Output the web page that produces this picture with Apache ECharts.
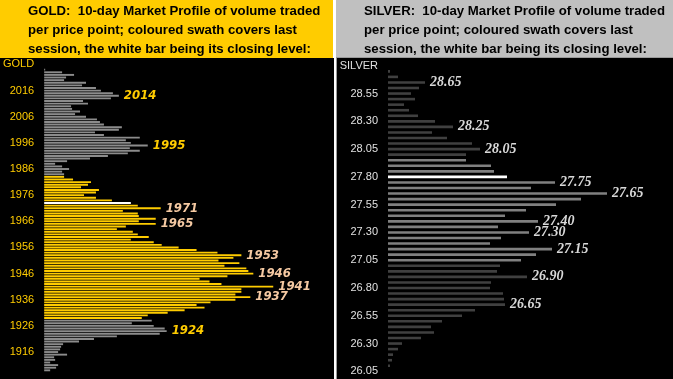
<!DOCTYPE html>
<html><head><meta charset="utf-8">
<script src="https://cdn.jsdelivr.net/npm/echarts@6/dist/echarts.min.js"></script>
<style>html,body{margin:0;padding:0;background:#fff;}#c{width:673px;height:379px;}</style>
</head><body><div id="c"></div>
<script>
// ---------- GOLD ----------
const GOLD_TOP_PRICE = 2024;            // highest price row with a bar (step 1)
const GOLD_AXIS_TOP = 2026;             // row used for the "GOLD" caption
const GOLD_VOLUMES = [ // 2024 down to 1909
  1,18,30,22,20,42,38,52,57,69,
  75,67,39,44,27,28,36,31,42,53,
  56,60,78,75,51,60,96,82,87,104,
  86,96,84,64,46,23,11,18,25,18,
  20,
  20,29,47,44,37,55,52,40,52,68,
  87,94,117,79,94,95,112,95,112,82,
  73,89,94,105,87,110,118,135,153,174,
  198,190,175,196,181,203,205,210,184,156,
  166,178,230,198,198,192,207,192,167,153,
  161,141,124,104,98,
  108,88,110,121,123,116,73,50,35,19,
  17,16,14,23,10,11,6,14,12,6
];
const GOLD_TICKS = ['2026','2016','2006','1996','1986','1976','1966','1956','1946','1936','1926','1916'];
const GOLD_SWATH = [1929, 1983];
const GOLD_CLOSE = 1973;
const GOLD_LABELS = ['2014','1995','1971','1965','1953','1946','1941','1937','1924'];

// ---------- SILVER ----------
const SILVER_TOP_CENTS = 2875;          // 28.75, step 0.05
const SILVER_AXIS_TOP_CENTS = 2880;     // row used for the "SILVER" caption
const SILVER_AXIS_BOTTOM_CENTS = 2605;
const SILVER_VOLUMES = [ // 28.75 down to 26.10
  2,10,37,31,23,27,16,21,30,47,
  65,44,59,84,92,78,78,103,106,119,
  167,143,219,193,168,138,117,150,110,141,
  113,102,164,148,133,112,109,139,103,102,
  115,116,117,87,74,54,43,46,33,14,
  10,5,4,2
];
const SILVER_TICKS = ['28.80','28.55','28.30','28.05','27.80','27.55','27.30','27.05','26.80','26.55','26.30','26.05'];
const SILVER_SWATH = [27.05, 27.95];
const SILVER_CLOSE = '27.80';
const SILVER_LABELS = ['28.65','28.25','28.05','27.75','27.65','27.40','27.30','27.15','26.90','26.65'];

// build category ladders
const goldCats = [];
for (let p = GOLD_AXIS_TOP; p >= GOLD_TOP_PRICE - GOLD_VOLUMES.length + 1; p--) goldCats.push(String(p));
const goldData = goldCats.map(c => {
  const idx = GOLD_TOP_PRICE - Number(c);
  if (idx < 0) return null;
  const v = GOLD_VOLUMES[idx];
  const p = Number(c);
  const inSwath = p >= GOLD_SWATH[0] && p <= GOLD_SWATH[1];
  const col = p === GOLD_CLOSE ? '#FFFFFF' : (inSwath ? '#FFCC00' : '#8C8C8C');
  return { value: v, itemStyle: { color: col },
           label: { color: inSwath ? '#F5C9A2' : '#FFCC00' } };
});

const silverCats = [];
for (let c = SILVER_AXIS_TOP_CENTS; c >= SILVER_AXIS_BOTTOM_CENTS; c -= 5) silverCats.push((c / 100).toFixed(2));
const silverData = silverCats.map(c => {
  const idx = Math.round((SILVER_TOP_CENTS - Math.round(Number(c) * 100)) / 5);
  if (idx < 0 || idx >= SILVER_VOLUMES.length) return null;
  const p = Number(c);
  const inSwath = p >= SILVER_SWATH[0] - 1e-6 && p <= SILVER_SWATH[1] + 1e-6;
  const col = c === SILVER_CLOSE ? '#FFFFFF' : (inSwath ? '#808080' : '#404040');
  return { value: SILVER_VOLUMES[idx], itemStyle: { color: col } };
});

const chart = echarts.init(document.getElementById('c'));
const headFont = 'bold 13.2px "Liberation Sans", Arial, sans-serif';
function headLines(x, lines) {
  return lines.map((t, i) => ({
    type: 'text', z: 5, silent: true,
    style: { text: t, x: x, y: 11.5 + i * 19, fill: '#000', font: headFont, verticalAlign: 'middle' }
  }));
}
chart.setOption({
  animation: false,
  backgroundColor: '#FFFFFF',
  graphic: [
    { type: 'rect', z: 0, silent: true, shape: { x: 0, y: 0, width: 333, height: 58 }, style: { fill: '#FFCC00' } },
    { type: 'rect', z: 0, silent: true, shape: { x: 0, y: 58, width: 334, height: 321 }, style: { fill: '#000000' } },
    { type: 'rect', z: 0, silent: true, shape: { x: 336, y: 0, width: 337, height: 58 }, style: { fill: '#C0C0C0' } },
    { type: 'rect', z: 0, silent: true, shape: { x: 336.5, y: 57.5, width: 340, height: 325 }, style: { fill: '#000000', stroke: '#9A9A9A', lineWidth: 1 } },
    ...headLines(28, ['GOLD:  10-day Market Profile of volume traded', 'per price point; coloured swath covers last', 'session, the white bar being its closing level:']),
    ...headLines(364, ['SILVER:  10-day Market Profile of volume traded', 'per price point; coloured swath covers last', 'session, the white bar being its closing level:'])
  ],
  grid: [
    { left: 43, top: 63.13, width: 290, height: 308.5 },
    { left: 388, top: 63.0, width: 285, height: 311.1 }
  ],
  xAxis: [
    { gridIndex: 0, type: 'value', min: 0, max: 290, show: false },
    { gridIndex: 1, type: 'value', min: 0, max: 285, show: false }
  ],
  yAxis: [
    { gridIndex: 0, type: 'category', inverse: true, data: goldCats,
      axisLine: { show: false }, axisTick: { show: false }, splitLine: { show: false },
      axisLabel: { interval: (i, v) => GOLD_TICKS.includes(v), formatter: v => v === '2026' ? 'GOLD' : v,
        color: '#FFCC00', fontSize: 11, margin: 10, fontFamily: '"Liberation Sans", Arial, sans-serif' } },
    { gridIndex: 1, type: 'category', inverse: true, data: silverCats,
      axisLine: { show: false }, axisTick: { show: false }, splitLine: { show: false },
      axisLabel: { interval: (i, v) => SILVER_TICKS.includes(v), formatter: v => v === '28.80' ? 'SILVER' : v,
        color: '#E0E0E0', fontSize: 11, margin: 10, fontFamily: '"Liberation Sans", Arial, sans-serif' } }
  ],
  series: [
    { type: 'bar', xAxisIndex: 0, yAxisIndex: 0, data: goldData, barWidth: 1.9, silent: true,
      label: { show: true, position: 'right', distance: 5,
        formatter: p => GOLD_LABELS.includes(p.name) ? p.name : '',
        fontFamily: '"Liberation Sans Narrow", "DejaVu Sans Condensed", "Liberation Sans", sans-serif',
        fontStyle: 'italic', fontWeight: 'bold', fontSize: 13,
        textShadowColor: 'rgba(0,0,0,0.9)', textShadowOffsetX: 1, textShadowOffsetY: 1, textShadowBlur: 0 } },
    { type: 'bar', xAxisIndex: 1, yAxisIndex: 1, data: silverData, barWidth: 2.6, silent: true,
      label: { show: true, position: 'right', distance: 5,
        formatter: p => SILVER_LABELS.includes(p.name) ? p.name : '',
        color: '#D8D8D8',
        fontFamily: '"Liberation Serif", "Times New Roman", serif',
        fontStyle: 'italic', fontWeight: 'bold', fontSize: 14 } }
  ]
});
</script></body></html>
